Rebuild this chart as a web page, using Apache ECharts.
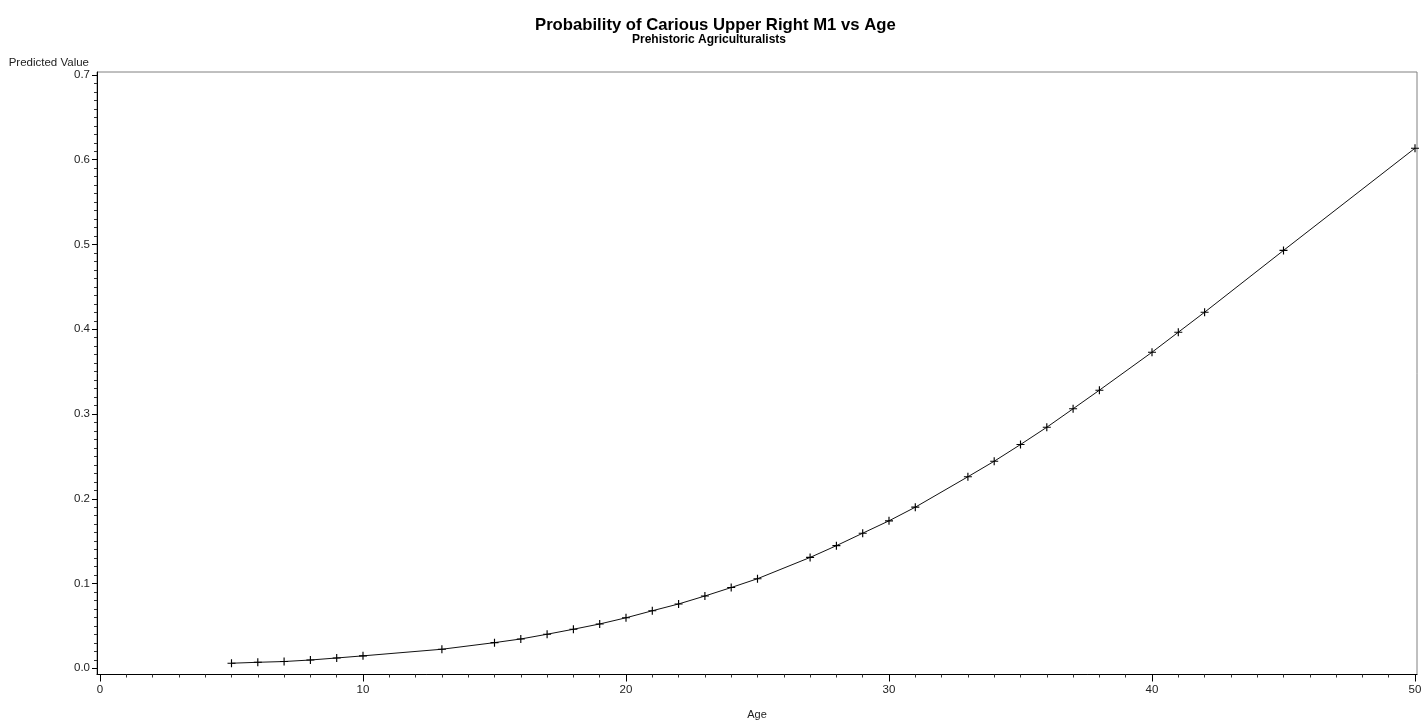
<!DOCTYPE html>
<html>
<head>
<meta charset="utf-8">
<script src="https://cdn.jsdelivr.net/npm/echarts@6/dist/echarts.min.js"></script>
<style>
html,body{margin:0;padding:0;background:#fff;}
#chart{width:1421px;height:720px;}
</style>
</head>
<body>
<div id="chart"></div>
<script>
// ---- data ----
var ages = [5, 6, 7, 8, 9, 10, 13, 15, 16, 17, 18, 19, 20, 21, 22, 23, 24, 25, 27, 28, 29, 30, 31, 33, 34, 35, 36, 37, 38, 40, 41, 42, 45, 50];
var predicted = [0.0060, 0.0071, 0.0080, 0.0098, 0.0122, 0.0147, 0.0225, 0.0303, 0.0346, 0.0402, 0.0461, 0.0523, 0.0596, 0.0679, 0.0759, 0.0853, 0.0953, 0.1057, 0.1308, 0.1447, 0.1594, 0.1740, 0.1901, 0.2260, 0.2443, 0.2640, 0.2844, 0.3062, 0.3281, 0.3729, 0.3965, 0.4201, 0.4930, 0.6136];
var xTicks = [0, 10, 20, 30, 40, 50];
var xTickLabels = ['0', '10', '20', '30', '40', '50'];
var yTicks = [0, 0.1, 0.2, 0.3, 0.4, 0.5, 0.6, 0.7];
var yTickLabels = ['0.0', '0.1', '0.2', '0.3', '0.4', '0.5', '0.6', '0.7'];

var titleText = 'Probability of Carious Upper Right M1 vs Age';
var subtitleText = 'Prehistoric Agriculturalists';
var xName = 'Age';
var yName = 'Predicted Value';

// minor tick positions (axis decoration)
var xMinor = [];
for (var i = 1; i < 50; i++) { if (i % 10 !== 0) xMinor.push(i); }
var yMinor = [];
for (var j = 1; j < 70; j++) { if (j % 10 !== 0) yMinor.push(Math.round(j) / 100); }

var seriesData = ages.map(function (a, k) { return [a, predicted[k]]; });

var X_MIN = -0.114, X_MAX = 50.076, Y_MIN = -0.0073, Y_MAX = 0.7035;
var font = 'Liberation Sans, Arial, sans-serif';
var labelColor = '#222';

var chart = echarts.init(document.getElementById('chart'), null, {renderer: 'canvas'});
chart.setOption({
  animation: false,
  backgroundColor: '#fff',
  title: [{
    text: titleText,
    left: 530,
    top: 12,
    textStyle: {fontFamily: font, fontWeight: 'bold', fontSize: 16.7, color: '#000'}
  }, {
    text: subtitleText,
    left: 627,
    top: 29,
    textStyle: {fontFamily: font, fontWeight: 'bold', fontSize: 12, color: '#000'}
  }],
  grid: {
    left: 97, right: 4, top: 72, bottom: 45.5,
    outerBoundsMode: 'none',
    containLabel: false,
    show: true, borderColor: '#808080', borderWidth: 1, backgroundColor: 'transparent'
  },
  xAxis: [{
    type: 'value', min: X_MIN, max: X_MAX, position: 'bottom',
    name: xName, nameLocation: 'middle', nameGap: 35,
    nameTextStyle: {fontFamily: font, fontSize: 11, color: labelColor},
    axisLine: {show: true, onZero: false, lineStyle: {color: '#000', width: 1}},
    axisTick: {show: true, customValues: xTicks, length: 7, lineStyle: {color: '#000'}},
    axisLabel: {show: true, customValues: xTicks, margin: 9, fontFamily: font, fontSize: 11.5, color: labelColor,
      formatter: function (v) { var idx = xTicks.indexOf(v); return idx >= 0 ? xTickLabels[idx] : ''; }},
    splitLine: {show: false}
  }, {
    type: 'value', min: X_MIN, max: X_MAX, position: 'bottom',
    axisLine: {show: false, onZero: false},
    axisTick: {show: true, customValues: xMinor, length: 3, lineStyle: {color: '#333'}},
    axisLabel: {show: false},
    splitLine: {show: false}
  }],
  yAxis: [{
    type: 'value', min: Y_MIN, max: Y_MAX, position: 'left',
    name: yName, nameLocation: 'end', nameGap: 0,
    nameTextStyle: {fontFamily: font, fontSize: 11.5, color: labelColor, align: 'right', verticalAlign: 'bottom', padding: [0, 8, 0, 0]},
    axisLine: {show: true, onZero: false, lineStyle: {color: '#000', width: 1}},
    axisTick: {show: true, customValues: yTicks, length: 5, lineStyle: {color: '#000'}},
    axisLabel: {show: true, customValues: yTicks, margin: 7, fontFamily: font, fontSize: 11.5, color: labelColor,
      formatter: function (v) {
        for (var q = 0; q < yTicks.length; q++) { if (Math.abs(yTicks[q] - v) < 1e-9) return yTickLabels[q]; }
        return '';
      }},
    splitLine: {show: false}
  }, {
    type: 'value', min: Y_MIN, max: Y_MAX, position: 'left',
    axisLine: {show: false, onZero: false},
    axisTick: {show: true, customValues: yMinor, length: 3, lineStyle: {color: '#333'}},
    axisLabel: {show: false},
    splitLine: {show: false}
  }],
  series: [{
    type: 'line',
    xAxisIndex: 0, yAxisIndex: 0,
    data: seriesData,
    showAllSymbol: true,
    symbol: 'path://M3,0h1v3h3v1h-3v3h-1v-3h-3v-1h3z',
    symbolSize: 8,
    itemStyle: {color: '#000'},
    lineStyle: {color: '#111', width: 1},
    emphasis: {disabled: true}
  }]
});
</script>
</body>
</html>
